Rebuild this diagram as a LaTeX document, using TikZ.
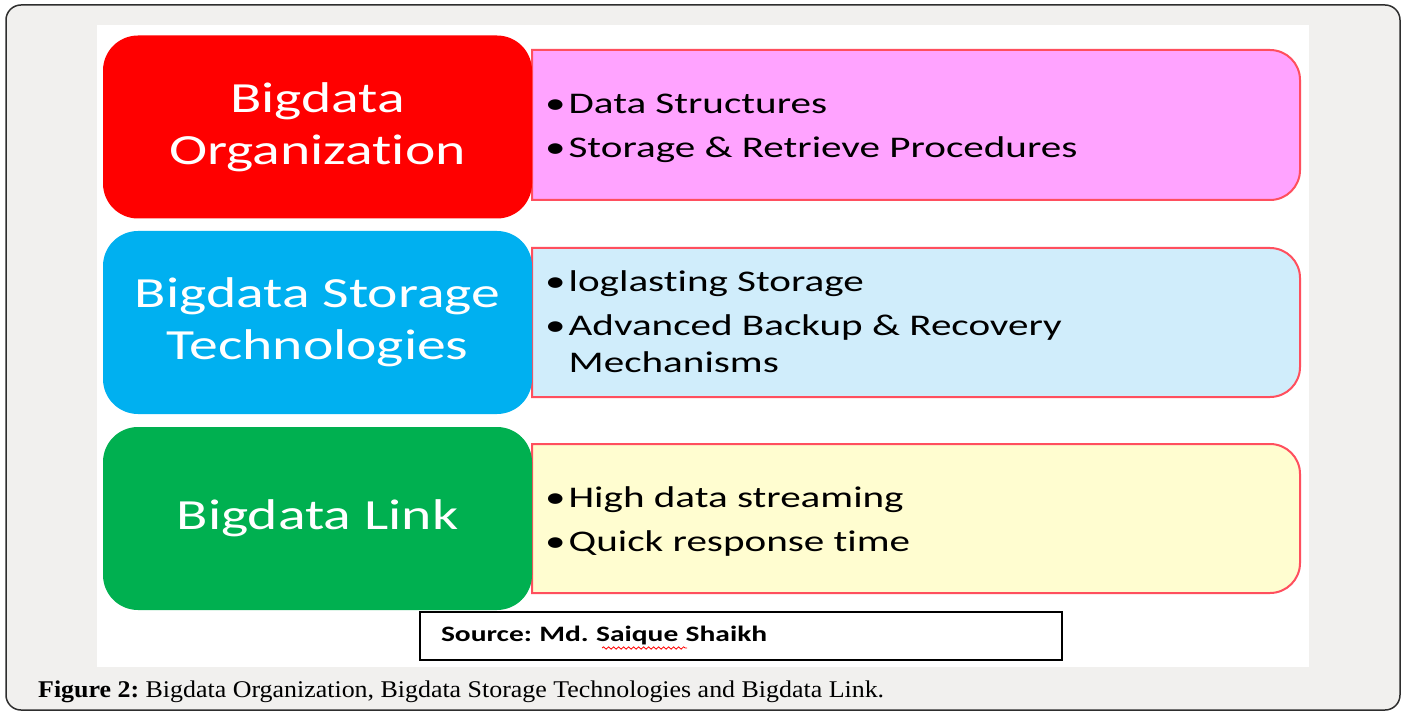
\documentclass[tikz,border=0pt]{standalone}
\usepackage{fontspec}
\setmainfont[FakeStretch=1.08]{Liberation Serif}
\newfontfamily\boxfont[FakeStretch=1.34,Ligatures=NoCommon]{Carlito}
\newfontfamily\itemfont[FakeStretch=1.37,Ligatures=NoCommon]{Carlito}
\usetikzlibrary{decorations.pathmorphing}
\definecolor{pagegray}{HTML}{F1F0EE}
\definecolor{framegray}{HTML}{2E2E2E}
\definecolor{bdred}{HTML}{FF0000}
\definecolor{bdblue}{HTML}{00B0F0}
\definecolor{bdgreen}{HTML}{00B050}
\definecolor{bdpink}{HTML}{FFA3FF}
\definecolor{bdsky}{HTML}{D0EDFB}
\definecolor{bdcream}{HTML}{FFFDD0}
\definecolor{bdedge}{HTML}{FF4F5E}
% right hand box: fill, top, bottom
\newcommand{\itemshape}[3]{%
\draw[itembox,fill=#1](532,#2)--(1270,#2) arc[start angle=90,end angle=0,radius=30]
  --(1300,{#3+30}) arc[start angle=0,end angle=-90,radius=30]--(532,#3)--cycle;}

\begin{document}
\frenchspacing
\begin{tikzpicture}[x=1pt,y=1pt,
  titlebox/.style={rounded corners=35pt,minimum width=429pt,minimum height=183pt,inner sep=0pt,
    text=white,align=center,font=\boxfont\fontsize{43}{52}\selectfont},
  itembox/.style={draw=bdedge,line width=2pt},
  itemtext/.style={anchor=base west,inner sep=0pt,font=\itemfont\fontsize{30}{37}\selectfont}]
\useasboundingbox(0,0) rectangle (1405,-711);
\draw[fill=pagegray,draw=framegray,line width=1.5pt,rounded corners=15pt](6,-5) rectangle (1400,-710);
\fill[white](97,-25) rectangle (1309,-667);
%
\itemshape{bdpink}{-50}{-200}
\itemshape{bdsky}{-248}{-397}
\itemshape{bdcream}{-444}{-593}
%
\node[titlebox,fill=bdred](org) at (317.5,-127){Bigdata\\Organization};
\node[titlebox,fill=bdblue](stor) at (317.5,-322.5){Bigdata Storage\\Technologies};
\node[titlebox,fill=bdgreen](link) at (317.5,-518.5){Bigdata Link};
%
\node[itemtext](orgitems) at (545,-114){\begin{tabular}[t]{@{}l@{\hspace{3pt}}l@{}}
  \textbullet & Data Structures\\[7pt]
  \textbullet & Storage \& Retrieve Procedures\end{tabular}};
\node[itemtext](storitems) at (545,-291){\begin{tabular}[t]{@{}l@{\hspace{3pt}}l@{}}
  \textbullet & loglasting Storage\\[7pt]
  \textbullet & Advanced Backup \& Recovery\\
  & Mechanisms\end{tabular}};
\node[itemtext](linkitems) at (545,-507){\begin{tabular}[t]{@{}l@{\hspace{3pt}}l@{}}
  \textbullet & High data streaming\\[7pt]
  \textbullet & Quick response time\end{tabular}};
%
\node[draw,line width=2pt,fill=white,text width=600pt,inner xsep=21pt,minimum height=48pt,align=left,
  font=\boxfont\bfseries\fontsize{22}{26}\selectfont](src) at (741,-636){Source: Md. Saique Shaikh};
\draw[red,line width=0.8pt,decorate,decoration={snake,amplitude=1.2pt,segment length=5pt}](602,-648)--(687,-648);
%
\node[anchor=base west,inner sep=0pt,font=\fontsize{24}{28}\selectfont](cap) at (38,-697)
  {\textbf{Figure 2:} Bigdata Organization, Bigdata Storage Technologies and Bigdata Link.};
\end{tikzpicture}
\end{document}
